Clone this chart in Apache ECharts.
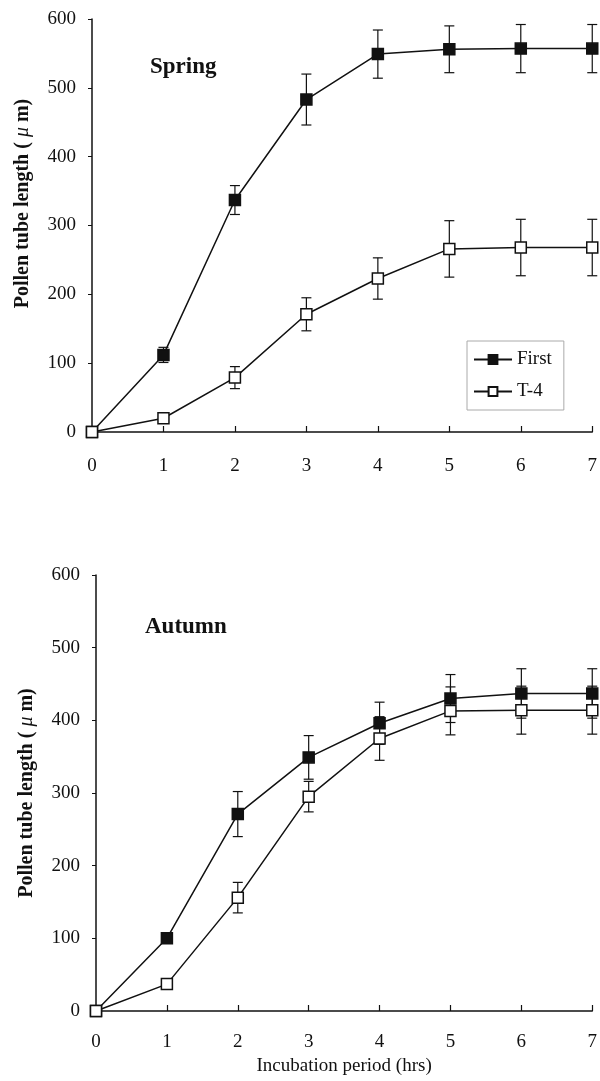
<!DOCTYPE html>
<html>
<head>
<meta charset="utf-8">
<script src="https://cdn.jsdelivr.net/npm/echarts@6/dist/echarts.min.js"></script>
<style>
html,body{margin:0;padding:0;background:#fff;}
#chart{width:600px;height:1081px;}
</style>
</head>
<body>
<div id="chart"></div>
<script>
// ---- data ----
const hours = [0, 1, 2, 3, 4, 5, 6, 7];
const yTicks = [0, 100, 200, 300, 400, 500, 600];
const seriesNames = ['First', 'T-4'];
const panelTitles = ['Spring', 'Autumn'];

const springFirst    = [0, 112, 337, 483, 549, 556, 557, 557];
const springFirstErr = [0, 11, 21, 37, 35, 34, 35, 35];
const springT4       = [0, 20, 79, 171, 223, 266, 268, 268];
const springT4Err    = [0, 0, 16, 24, 30, 41, 41, 41];

const autumnFirst    = [0, 100, 271, 349, 396, 430, 437, 437];
const autumnFirstErr = [0, 0, 31, 30, 29, 33, 34, 34];
const autumnT4       = [0, 37, 156, 295, 375, 413, 414, 414];
const autumnT4Err    = [0, 0, 21, 21, 30, 33, 33, 33];

const FONT = 'Liberation Serif';
const BLACK = '#111';

function pts(vals) { return hours.map((h, i) => [h, vals[i]]); }
function errs(vals, e) { return hours.map((h, i) => [h, vals[i] - e[i], vals[i] + e[i]]); }

function errRender(params, api) {
  const x = api.value(0), lo = api.value(1), hi = api.value(2);
  if (hi - lo <= 0) return;
  const pLo = api.coord([x, lo]);
  const pHi = api.coord([x, hi]);
  const w = 5;
  const st = { stroke: BLACK, lineWidth: 1.2 };
  return {
    type: 'group',
    children: [
      { type: 'line', shape: { x1: pLo[0], y1: pLo[1], x2: pHi[0], y2: pHi[1] }, style: st },
      { type: 'line', shape: { x1: pLo[0] - w, y1: pLo[1], x2: pLo[0] + w, y2: pLo[1] }, style: st },
      { type: 'line', shape: { x1: pHi[0] - w, y1: pHi[1], x2: pHi[0] + w, y2: pHi[1] }, style: st }
    ]
  };
}

function xAxis(gi, withName) {
  return {
    type: 'value', gridIndex: gi, min: 0, max: 7, interval: 1,
    axisLine: { lineStyle: { color: BLACK, width: 1.5 } },
    axisTick: { inside: true, length: 6, lineStyle: { color: BLACK, width: 1.2 } },
    axisLabel: { color: BLACK, fontFamily: FONT, fontSize: 19, margin: gi === 0 ? 25 : 22 },
    splitLine: { show: false },
    name: withName ? 'Incubation period (hrs)' : '',
    nameLocation: 'middle', nameGap: 46,
    nameTextStyle: { color: BLACK, fontFamily: FONT, fontSize: 19 }
  };
}
function yAxis(gi) {
  return {
    type: 'value', gridIndex: gi, min: 0, max: 600, interval: 100,
    axisLine: { show: true, lineStyle: { color: BLACK, width: 1.5 } },
    axisTick: { show: true, inside: false, length: 4, lineStyle: { color: BLACK, width: 1 } },
    axisLabel: { color: BLACK, fontFamily: FONT, fontSize: 19, margin: 16 },
    splitLine: { show: false },
    name: '{a|Pollen tube length ( }{b|μ}{a| m)}',
    nameLocation: 'middle', nameGap: 59, nameRotate: 90,
    nameTextStyle: {
      padding: gi === 0 ? [0, 0, 0, 44] : 0,
      rich: {
        a: { color: BLACK, fontFamily: FONT, fontSize: 20, fontWeight: 'bold' },
        b: { color: BLACK, fontFamily: FONT, fontSize: 20, fontStyle: 'italic' }
      }
    }
  };
}

function lineSeries(name, gi, vals, filled) {
  return {
    name: name, type: 'line', xAxisIndex: gi, yAxisIndex: gi,
    data: pts(vals), symbol: 'rect', symbolSize: 11, showSymbol: true,
    clip: false, z: 3,
    lineStyle: { color: BLACK, width: 1.5 },
    itemStyle: { color: filled ? BLACK : '#fff', borderColor: BLACK, borderWidth: 1.5 },
    emphasis: { disabled: true }
  };
}
function errSeries(gi, vals, e) {
  return {
    type: 'custom', xAxisIndex: gi, yAxisIndex: gi,
    data: errs(vals, e), renderItem: errRender, z: 2, clip: false, silent: true
  };
}

const option = {
  animation: false,
  backgroundColor: '#fff',
  title: [
    { text: panelTitles[0], left: 145, top: 51, textStyle: { fontFamily: FONT, fontSize: 23, fontWeight: 'bold', color: BLACK } },
    { text: panelTitles[1], left: 140, top: 611, textStyle: { fontFamily: FONT, fontSize: 23, fontWeight: 'bold', color: BLACK } }
  ],
  legend: {
    data: seriesNames,
    orient: 'vertical', left: 467, top: 341,
    itemWidth: 38, itemHeight: 11, itemGap: 13,
    padding: [9, 12, 9, 6],
    borderColor: '#aaa', borderWidth: 1,
    textStyle: { fontFamily: FONT, fontSize: 19, color: BLACK },
    selectedMode: false
  },
  grid: [
    { left: 92, top: 19, width: 501, height: 413 },
    { left: 96, top: 575, width: 499, height: 436 }
  ],
  xAxis: [xAxis(0, false), xAxis(1, true)],
  yAxis: [yAxis(0), yAxis(1)],
  series: [
    errSeries(0, springFirst, springFirstErr),
    errSeries(0, springT4, springT4Err),
    lineSeries(seriesNames[0], 0, springFirst, true),
    lineSeries(seriesNames[1], 0, springT4, false),
    errSeries(1, autumnFirst, autumnFirstErr),
    errSeries(1, autumnT4, autumnT4Err),
    lineSeries(seriesNames[0], 1, autumnFirst, true),
    lineSeries(seriesNames[1], 1, autumnT4, false)
  ]
};

const chart = echarts.init(document.getElementById('chart'), null, { renderer: 'canvas' });
chart.setOption(option);
</script>
</body>
</html>
